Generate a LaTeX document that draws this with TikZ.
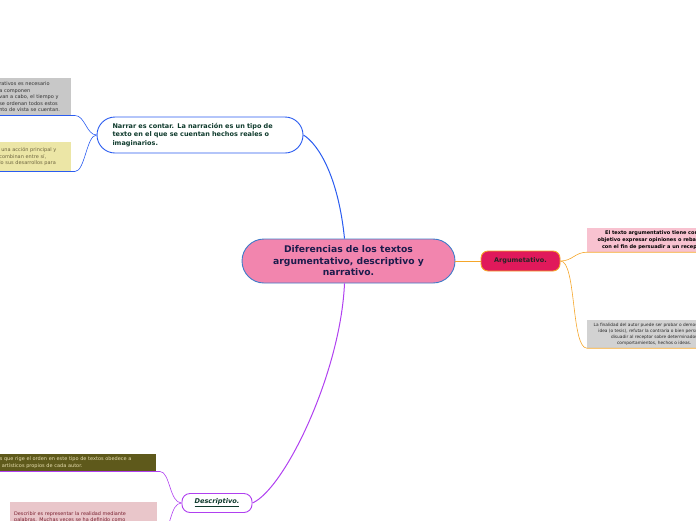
\documentclass[tikz,border=0pt]{standalone}
\usepackage{fontspec}
\setmainfont{DejaVu Sans}
\definecolor{rosatema}{HTML}{F285AE}
\definecolor{bordetema}{HTML}{3D7CC9}
\definecolor{textotema}{HTML}{1C1C4C}
\definecolor{azulrama}{HTML}{2A5CF0}
\definecolor{verdetexto}{HTML}{0E3A2C}
\definecolor{naranjarama}{HTML}{F5A62A}
\definecolor{carmin}{HTML}{E0195B}
\definecolor{moradorama}{HTML}{B040F0}
\definecolor{grisnota}{HTML}{C8C8C8}
\definecolor{grisnotab}{HTML}{D2D2D2}
\definecolor{amarillonota}{HTML}{ECE6A6}
\definecolor{amarillotexto}{HTML}{6E6640}
\definecolor{rosanota}{HTML}{F8C2D0}
\definecolor{olivanota}{HTML}{5E591B}
\definecolor{olivatexto}{HTML}{E8DFB0}
\definecolor{rosanotab}{HTML}{E9C6CA}
\definecolor{rosatexto}{HTML}{7A2030}

\begin{document}
\begin{tikzpicture}[x=1pt, y=-1pt,
    tema/.style={draw=bordetema, fill=rosatema, line width=0.9pt, rounded corners=22pt, minimum width=213pt, minimum height=44pt, align=center, text=textotema, font=\fontsize{9.2}{11.5}\selectfont\bfseries},
    idea/.style={draw, fill=white, line width=0.9pt, align=left, inner sep=0pt},
    nota/.style={inner sep=2.5pt, align=left, font=\fontsize{5}{6.6}\selectfont},
    rama/.style={line width=1pt},
    ramita/.style={line width=0.6pt}]

    \useasboundingbox (0,0) rectangle (696,520);
    \clip (0,0) rectangle (696,520);

    \node[tema] (centro) at (348.5,261) {Diferencias de los textos\\argumentativo, descriptivo y\\narrativo.};

    \node[idea, draw=azulrama, rounded corners=18pt, minimum width=206pt, minimum height=36pt, text width=175pt, text=verdetexto, font=\fontsize{6.5}{8.2}\selectfont\bfseries] (narrar) at (200,135) {Narrar es contar. La narración es un tipo de\\texto en el que se cuentan hechos reales o\\imaginarios.};
    \node[nota, fill=grisnota, text=black!80, text width=69pt, minimum height=37pt, anchor=south east] (gris) at (71,115.5) {rativos es necesario\\a componen\\van a cabo, el tiempo y\\se ordenan todos estos\\nto de vista se cuentan.};
    \node[nota, fill=amarillonota, text=amarillotexto, text width=69pt, minimum height=29pt, anchor=south east] (amarilla) at (71,171.5) {\hspace*{2pt}una acción principal y\\combinan entre sí,\\lo sus desarrollos para};

    \node[idea, draw=naranjarama, fill=carmin, rounded corners=7pt, minimum width=79pt, minimum height=20pt, align=center, text=black!85, font=\fontsize{6.5}{7.5}\selectfont\bfseries] (argum) at (520.5,261) {Argumetativo.};
    \node[nota, fill=rosanota, text=black, align=center, minimum width=134pt, minimum height=24pt, anchor=west, font=\fontsize{5}{7}\selectfont\bfseries] (rosa) at (587,240) {El texto argumentativo tiene como\\objetivo expresar opiniones o rebatirlas\\con el fin de persuadir a un receptor.};
    \node[nota, fill=grisnotab, text=black!85, align=center, minimum width=134pt, minimum height=28pt, anchor=west, font=\fontsize{4.3}{6}\selectfont] (grisb) at (587,334) {La finalidad del autor puede ser probar o demostrar una\\idea (o tesis), refutar la contraria o bien persuadir o\\disuadir al receptor sobre determinados\\comportamientos, hechos o ideas.};

    \node[idea, draw=moradorama, rounded corners=8pt, minimum width=70pt, minimum height=19pt, align=center, text=verdetexto, font=\fontsize{6.6}{8}\selectfont\bfseries\itshape] (descr) at (217,503) {\underline{Descriptivo.}};
    \node[nota, fill=olivanota, text=olivatexto, text width=153.5pt, minimum height=17pt, anchor=south east, font=\fontsize{5}{6.4}\selectfont] (oliva) at (156,471.5) {s que rige el orden en este tipo de textos obedece a\\\hspace*{2pt}artísticos propios de cada autor.};
    \node[nota, fill=rosanotab, text=rosatexto, inner sep=4pt, text width=139pt, minimum height=30pt, anchor=north west, font=\fontsize{4.9}{6.6}\selectfont] (rosab) at (10,502) {Describir es representar la realidad mediante\\palabras. Muchas veces se ha definido como\\[6pt]};

    \draw[rama, azulrama] ([xshift=-4pt]centro.north) .. controls +(-6,-60) and +(16,10) .. (narrar.east);
    \draw[ramita, azulrama] (narrar.west) .. controls +(-10,0) and +(10,0) .. ([xshift=4pt]gris.south east) -- (gris.south west);
    \draw[ramita, azulrama] (narrar.west) .. controls +(-10,0) and +(10,0) .. ([xshift=4pt]amarilla.south east) -- (amarilla.south west);

    \draw[rama, naranjarama] (centro.east) -- (argum.west);
    \draw[ramita, naranjarama] (argum.east) .. controls +(12,0) and +(-12,0) .. (rosa.south west) -- (rosa.south east);
    \draw[ramita, naranjarama] (argum.east) .. controls +(16,0) and +(-16,0) .. (grisb.south west) -- (grisb.south east);

    \draw[rama, moradorama] ([xshift=-4pt]centro.south) .. controls +(-4,90) and +(32,-14) .. (descr.east);
    \draw[ramita, moradorama] (descr.west) .. controls +(-12,0) and +(10,0) .. ([xshift=4pt]oliva.south east) -- (oliva.south west);
    \draw[ramita, moradorama] (descr.west) .. controls +(-12,0) and +(10,0) .. ([xshift=4pt]rosab.south east) -- (rosab.south west);
\end{tikzpicture}
\end{document}
